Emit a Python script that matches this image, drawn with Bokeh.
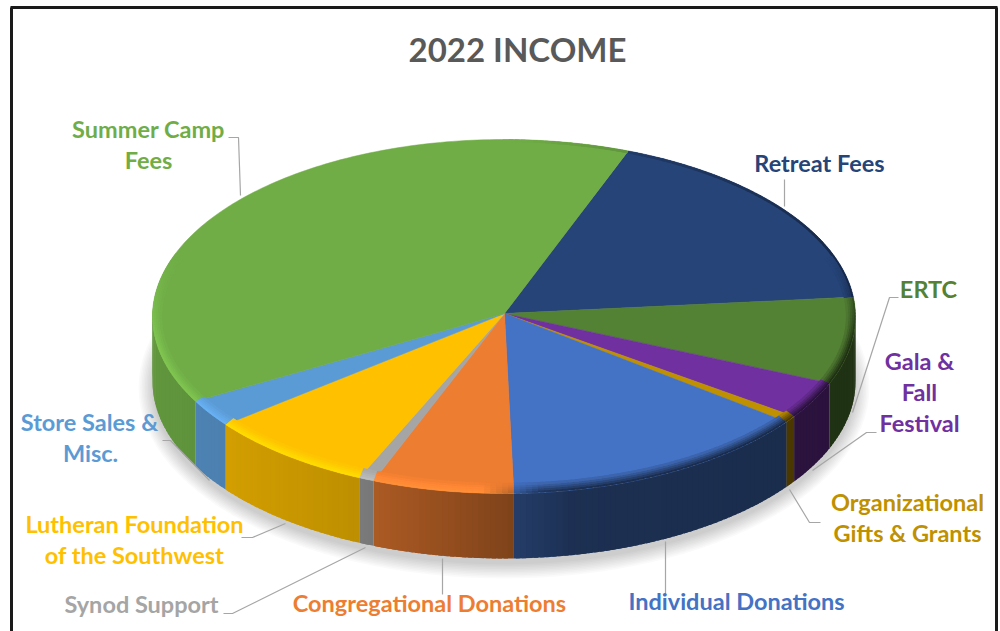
import numpy as np
from bokeh.plotting import figure
from bokeh.models import Range1d
from bokeh.core.properties import value
from bokeh.embed import file_html
from bokeh.resources import INLINE

# ---------- data ----------
categories = ["Retreat Fees", "ERTC", "Gala & Fall Festival", "Organizational Gifts & Grants",
              "Individual Donations", "Congregational Donations", "Synod Support",
              "Lutheran Foundation of the Southwest", "Store Sales & Misc.", "Summer Camp Fees"]
shares = [17.5, 7.9, 3.4, 0.6, 14.4, 6.5, 0.7, 7.8, 2.5, 38.7]
colors = ["#264478", "#548235", "#7030A0", "#BF9000", "#4472C4",
          "#ED7D31", "#A5A5A5", "#FFC000", "#5B9BD5", "#70AD47"]
start_angle = 20.7
title = "2022 INCOME"

# ---------- geometry of the tilted pie (page pixels) ----------
CX, CY, RX, RY = 503.5, 316.0, 351.5, 177.0
APEX = (504.0, 313.0)
DEPTH = 65.0
RIM_X, RIM_Y = 9.0, 10.0


def rgb(h):
    return np.array([int(h[i:i + 2], 16) for i in (1, 3, 5)], dtype=float)


def tohex(c):
    c = np.clip(np.round(c), 0, 255).astype(int)
    return "#%02x%02x%02x" % tuple(c)


def pt(theta, rx=RX, ry=RY, dy=0.0):
    t = np.radians(theta)
    return CX + rx * np.sin(t), CY - ry * np.cos(t) + dy


def wall_shade(x):
    return np.interp(x, [152, 360, 513, 570, 855], [0.87, 0.74, 0.53, 0.42, 0.38])


p = figure(width=1000, height=631, x_range=Range1d(0, 1000), y_range=Range1d(631, 0),
           output_backend="svg", toolbar_location=None, min_border=0,
           outline_line_color=None, background_fill_color="white", border_fill_color="white")
p.axis.visible = False
p.grid.visible = False

# frame
p.multi_line([[11, 11], [10, 997], [996, 996]], [[631, 7], [7, 7], [7, 631]],
             line_color="#1a1a1a", line_width=3)

# soft shadow
ang = np.radians(np.arange(0, 361, 3))
sx, sy = [], []
for g in np.linspace(14, 0, 10):
    sx.append(list(CX + (RX + g) * np.sin(ang)))
    sy.append(list(CY + DEPTH + 6 + (RY + g) * np.cos(ang)))
p.patches(sx, sy, fill_color="#000000", fill_alpha=0.018, line_color=None)

edges = start_angle + np.cumsum([0] + shares) * 3.6
OVER = 0.7

# side wall strips
wx, wy, wc = [], [], []
for i, col in enumerate(colors):
    a0, a1 = edges[i], edges[i + 1]
    n = max(2, int(np.ceil(a1 - a0)))
    ts = np.linspace(a0, a1, n + 1)
    for t0, t1 in zip(ts[:-1], ts[1:]):
        if (t0 % 360) < 88 or (t0 % 360) > 272:
            continue
        t2 = min(t1 + OVER, a1)
        x0, y0 = pt(t0)
        x1, y1 = pt(t2)
        wx.append([x0, x1, x1, x0])
        wy.append([y0, y1, y1 + DEPTH, y0 + DEPTH])
        wc.append(tohex(rgb(col) * wall_shade((x0 + x1) / 2)))
p.patches(wx, wy, fill_color=wc, line_color=None)

# top face
fx, fy = [], []
for i in range(len(colors)):
    ts = np.linspace(edges[i], edges[i + 1], max(3, int(edges[i + 1] - edges[i]) + 1))
    ax, ay = pt(ts)
    fx.append([APEX[0]] + list(ax))
    fy.append([APEX[1]] + list(ay))
p.patches(fx, fy, fill_color=colors, line_color=colors, line_width=0.5)

# bevel on the rim of the top face
N = 5
bx, by, bc = [], [], []
for k in range(N):
    d0, d1 = k / N, (k + 1.3) / N
    tt = 1 - k / N
    for i, col in enumerate(colors):
        base = rgb(col)
        a0, a1 = edges[i], edges[i + 1]
        ts = np.linspace(a0, a1, max(2, int(np.ceil(a1 - a0))) + 1)
        for t0, t1 in zip(ts[:-1], ts[1:]):
            tm = (t0 + t1) / 2
            s = np.sin(np.radians(tm))
            x, _ = pt(tm)
            front = np.clip((-np.cos(np.radians(tm)) + 0.35) / 0.5, 0, 1)
            if front == 0 and not (s > 0 and k == 0):
                continue
            right = np.clip((x - 480) / 60, 0, 1)
            light = np.clip(base * (1 + 0.14 * tt), 0, 255)
            w = rgb(col) * wall_shade(x)
            wgt = tt * front
            if k == 0 and s > 0:
                wgt = max(wgt, 0.65 * s)
            dark = base * (1 - wgt) + w * wgt
            lit = base * (1 - front) + light * front
            c = lit * (1 - right) + dark * right
            t2 = min(t1 + OVER, a1)
            q0 = pt(t0, RX - d0 * RIM_X, RY - d0 * RIM_Y)
            q1 = pt(t2, RX - d0 * RIM_X, RY - d0 * RIM_Y)
            q2 = pt(t2, RX - d1 * RIM_X, RY - d1 * RIM_Y)
            q3 = pt(t0, RX - d1 * RIM_X, RY - d1 * RIM_Y)
            bx.append([q0[0], q1[0], q2[0], q3[0]])
            by.append([q0[1], q1[1], q2[1], q3[1]])
            bc.append(tohex(c))
p.patches(bx, by, fill_color=bc, line_color=None)

# leader lines
lead_x = [[228, 238, 240], [784, 784], [898, 889, 852], [876, 866, 812], [820, 809, 789],
          [665, 665], [442, 442], [223, 232, 365], [241, 252, 285], [162, 170, 209]]
lead_y = [[137, 137, 195], [179, 206], [297, 297, 412], [432, 432, 470], [522, 522, 489],
          [541, 595], [558, 594], [613, 613, 547], [537, 537, 523], [440, 440, 480]]
p.multi_line(lead_x, lead_y, line_color="#A6A6A6", line_width=1.2)

# labels
FONT = value("Lato")
lab = [("Summer Camp", 148, 128, 9), ("Fees", 148, 159, 9),
       ("Retreat Fees", 819, 162, 0), ("ERTC", 928, 288, 1),
       ("Gala &", 919, 360, 2), ("Fall", 919, 391, 2), ("Festival", 919, 422, 2),
       ("Organizational", 907, 501, 3), ("Gifts & Grants", 907, 532, 3),
       ("Individual Donations", 736, 600, 4), ("Congregational Donations", 429, 602, 5),
       ("Synod Support", 141, 603, 6), ("Lutheran Foundation", 134, 523, 7),
       ("of the Southwest", 134, 554, 7), ("Store Sales &", 89, 421, 8), ("Misc.", 90, 452, 8)]
p.text([l[1] for l in lab], [l[2] for l in lab], text=[l[0] for l in lab],
       text_color=[colors[l[3]] for l in lab], text_font=FONT, text_font_style="bold",
       text_font_size="23.5px", text_align="center", text_baseline="middle")
p.text([517], [48], text=[title], text_color="#595959", text_font=FONT, text_font_style="bold",
       text_font_size="33px", text_align="center", text_baseline="middle")

open("out.html", "w").write(file_html(p, INLINE))
